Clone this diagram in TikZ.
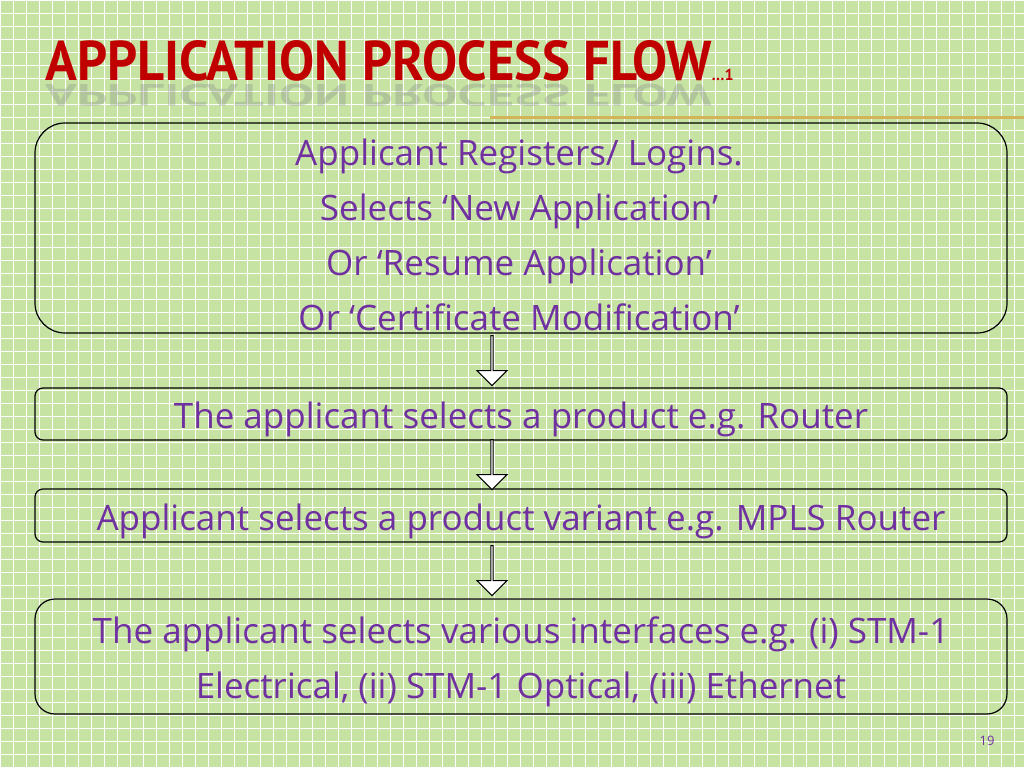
\documentclass[tikz,border=0pt]{standalone}
\usepackage{fontspec}
\setmainfont{Open Sans}
\newfontfamily\titlefont{PT Sans}
\usetikzlibrary{shapes.arrows}
\definecolor{bg}{HTML}{C6E3A4}
\definecolor{txt}{HTML}{7030A0}
\definecolor{ttl}{HTML}{C00000}
\definecolor{gold}{HTML}{D4B45A}
\begin{document}
\begin{tikzpicture}[x=1pt,y=-1pt,
  box/.style={draw=black,line width=1.2pt,fill=none},
  btxt/.style={text=txt,font=\fontsize{35}{55}\selectfont,align=center},
  ttxt/.style={font=\titlefont\bfseries\fontsize{56}{56}\selectfont,inner sep=0pt},
  barrow/.style={single arrow,draw=black,fill=white,line width=1pt,shape border rotate=270,minimum height=50pt,minimum width=30pt,single arrow head extend=6pt,inner sep=0pt}]
\fill[bg] (0,0) rectangle (1024,768);
\useasboundingbox (0,0) rectangle (1024,768);
\foreach \i in {0,13,...,1024} \draw[white,line width=0.8pt] (\i,0) -- (\i,768);
\foreach \j in {0,13,...,768} \draw[white,line width=0.8pt] (0,\j) -- (1024,\j);
\node[ttxt,anchor=base west,text=gray,opacity=0.3,yscale=-0.55] (refl) at (45,84) {\scalebox{0.94}[1]{APPLICATION PROCESS FLOW}};
\node[ttxt,anchor=base west,text=ttl] (title) at (45,80) {\scalebox{0.94}[1]{APPLICATION PROCESS FLOW}\fontsize{16}{16}\selectfont …1};
\draw[gold,line width=3pt] (490,117) -- (1024,117);
\draw[box,rounded corners=30pt] (35,123) rectangle (1007,333);
\node[btxt] (b1) at (519,235) {Applicant Registers/ Logins.\\Selects ‘New Application’\\Or ‘Resume Application’\\Or ‘Certificate Modification’};
\draw[box,rounded corners=8pt] (35,388) rectangle (1007,440);
\node[btxt] (b2) at (521,419) {The applicant selects a product e.g. Router};
\draw[box,rounded corners=8pt] (35,489) rectangle (1007,542);
\node[btxt] (b3) at (521,521) {Applicant selects a product variant e.g. MPLS Router};
\draw[box,rounded corners=20pt] (35,599) rectangle (1007,714);
\node[btxt] (b4) at (521,662) {The applicant selects various interfaces e.g. (i) STM-1\\Electrical, (ii) STM-1 Optical, (iii) Ethernet};
\node[barrow] (a1) at (492,360) {};
\node[barrow] (a2) at (492,464) {};
\node[barrow] (a3) at (492,570) {};
\node[text=txt,font=\fontsize{13}{13}\selectfont] (pg) at (987,741) {19};
\end{tikzpicture}
\end{document}
